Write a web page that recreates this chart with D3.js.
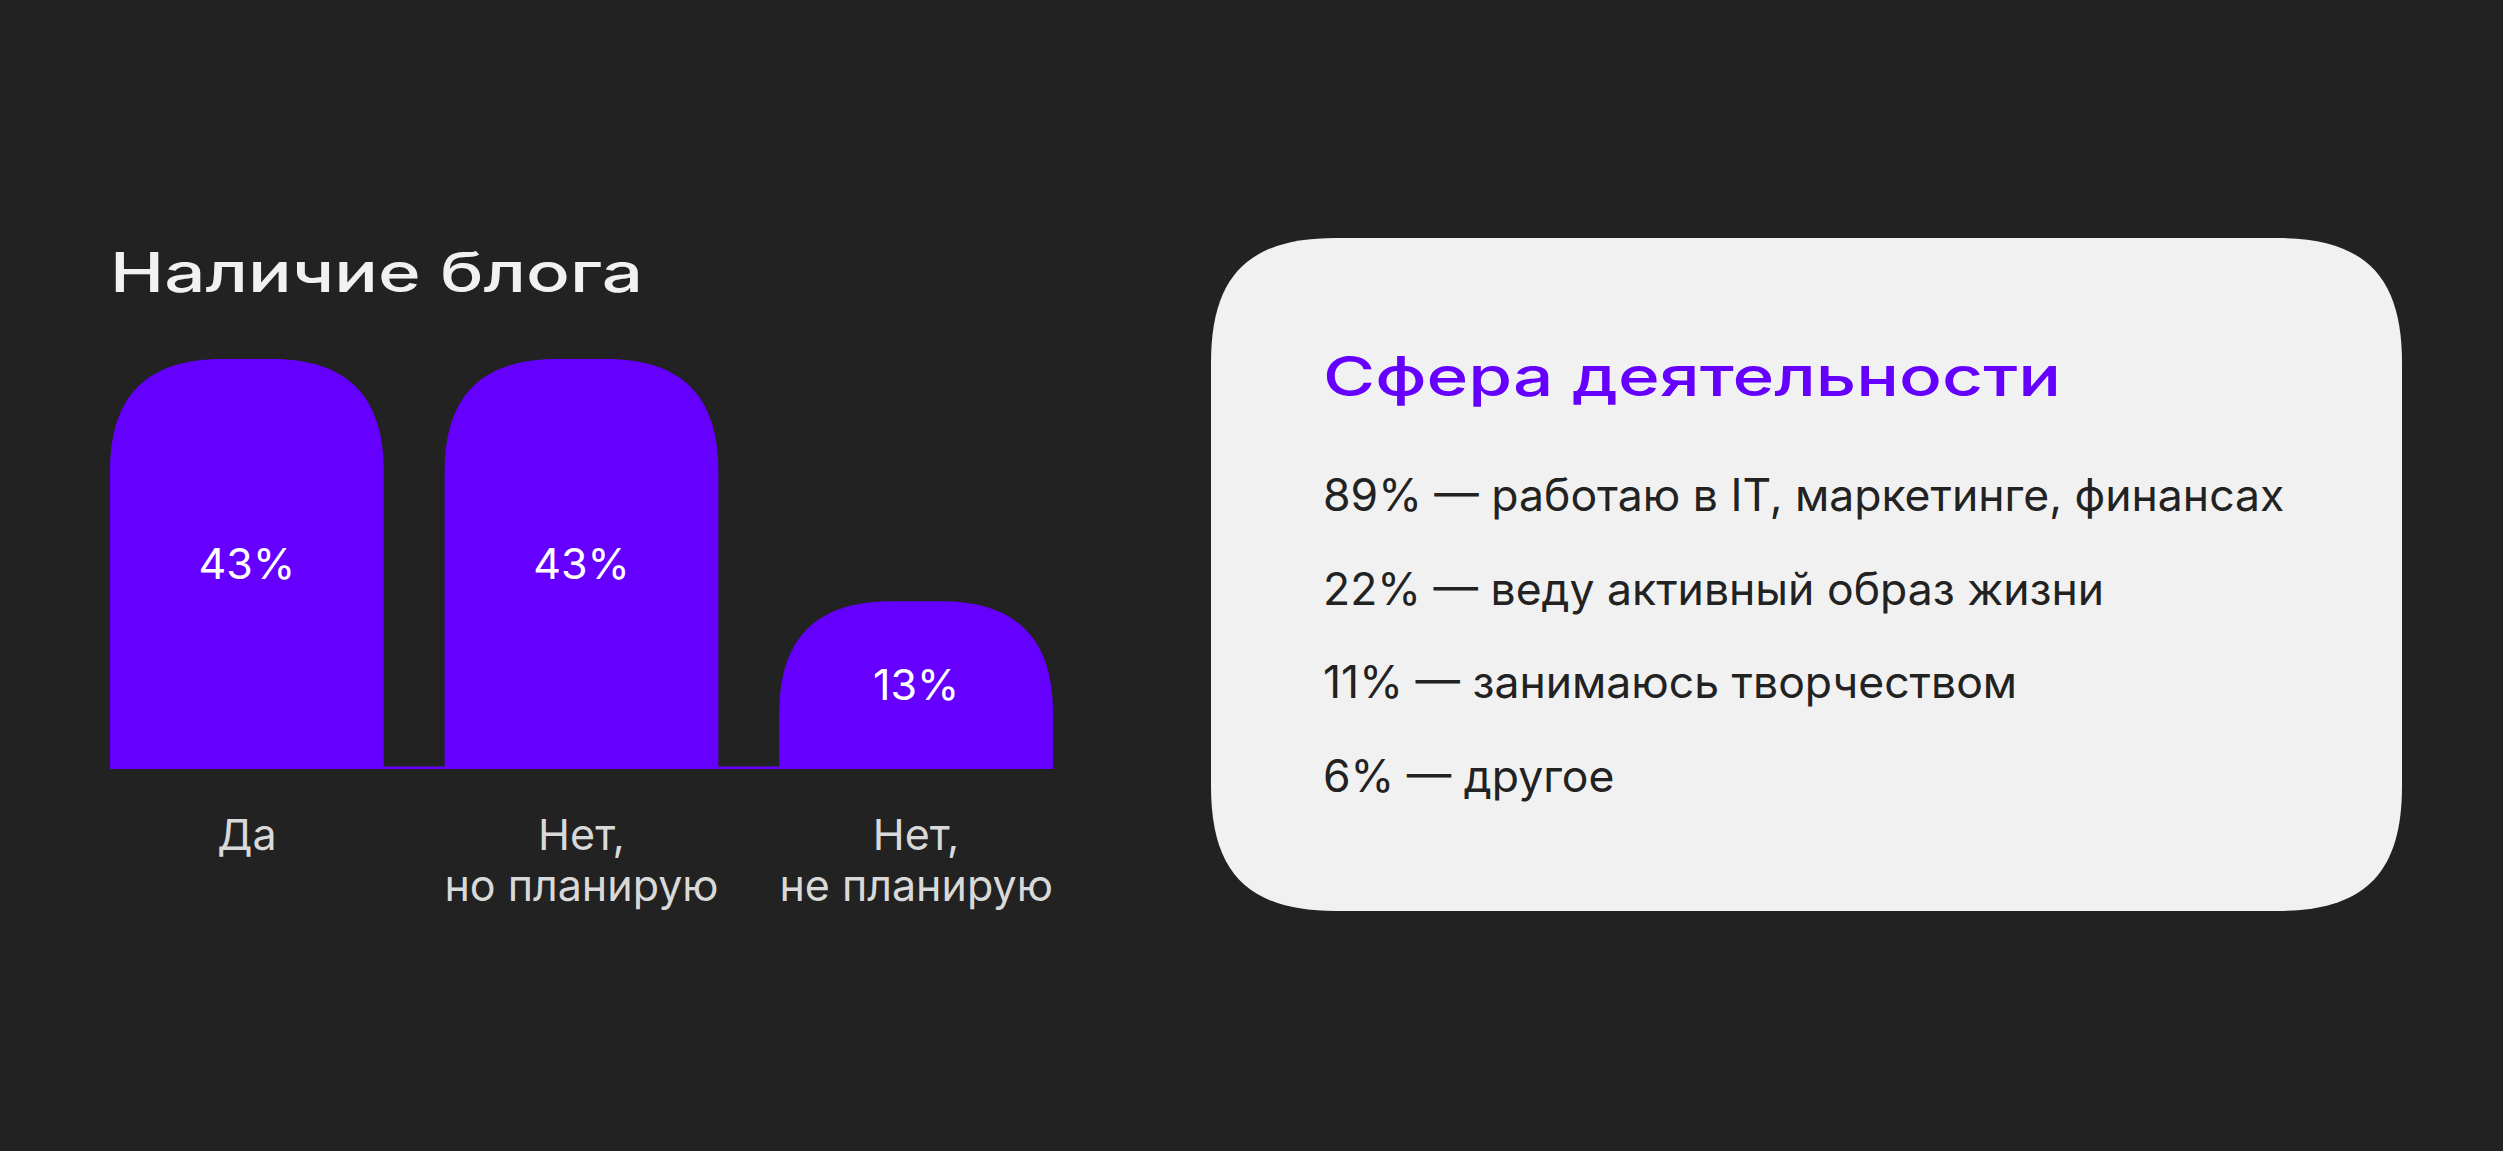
<!DOCTYPE html>
<html>
<head>
<meta charset="utf-8">
<script src="https://cdn.jsdelivr.net/npm/d3@7"></script>
<style>
  html, body { margin: 0; padding: 0; background: #222222; }
  svg { display: block; }
</style>
</head>
<body>
<svg id="chart" width="2503" height="1151"></svg>
<script>
// ---- data ----
const chartTitle = "Наличие блога";
const categories = ["Да", "Нет,\nно планирую", "Нет,\nне планирую"];
const values = [43, 43, 13];
const valueLabels = ["43%", "43%", "13%"];

const panelTitle = "Сфера деятельности";
const spherePercents = ["89%", "22%", "11%", "6%"];
const sphereLabels = ["работаю в IT, маркетинге, финансах", "веду активный образ жизни", "занимаюсь творчеством", "другое"];

// ---- style ----
const W = 2503, H = 1151;
const purple = "#6500ff";
const bg = "#222222";
const panelFill = "#f1f1f1";
const bodyFont = "Inter, 'Noto Sans', sans-serif";

const svg = d3.select("#chart");
svg.append("rect").attr("width", W).attr("height", H).attr("fill", bg);

// ---- scales ----
const x = d3.scaleBand().domain(categories).range([110, 1053]).paddingInner(0.182).paddingOuter(0);
const y = d3.scaleLinear().domain([-7.8, 43]).range([769, 359]);
const base = y.range()[0];

// squircle-like top-rounded bar path
function barPath(x0, y0, w, h, r, d) {
  const x1 = x0 + w, yb = y0 + h;
  r = Math.min(r, w / 2, h);
  return `M${x0},${yb} L${x0},${y0 + r} C${x0},${y0 + r * d} ${x0 + r * d},${y0} ${x0 + r},${y0} ` +
         `L${x1 - r},${y0} C${x1 - r * d},${y0} ${x1},${y0 + r * d} ${x1},${y0 + r} L${x1},${yb} Z`;
}
function roundRectPath(x0, y0, w, h, r, d) {
  const x1 = x0 + w, y1 = y0 + h;
  return `M${x0 + r},${y0} L${x1 - r},${y0} C${x1 - r * d},${y0} ${x1},${y0 + r * d} ${x1},${y0 + r} ` +
         `L${x1},${y1 - r} C${x1},${y1 - r * d} ${x1 - r * d},${y1} ${x1 - r},${y1} ` +
         `L${x0 + r},${y1} C${x0 + r * d},${y1} ${x0},${y1 - r * d} ${x0},${y1 - r} ` +
         `L${x0},${y0 + r} C${x0},${y0 + r * d} ${x0 + r * d},${y0} ${x0 + r},${y0} Z`;
}

// ---- left title ----
svg.append("text")
  .attr("x", 110).attr("y", 292)
  .attr("font-family", bodyFont).attr("font-weight", 500).attr("font-size", 55)
  .attr("fill", "#f1f1f1")
  .attr("textLength", 533).attr("lengthAdjust", "spacingAndGlyphs")
  .text(chartTitle);

// ---- baseline ----
svg.append("line")
  .attr("x1", x.range()[0]).attr("x2", x.range()[1])
  .attr("y1", base - 1.2).attr("y2", base - 1.2)
  .attr("stroke", purple).attr("stroke-width", 2.5);

// ---- bars ----
const data = categories.map((c, i) => ({ c, v: values[i], label: valueLabels[i] }));
svg.append("g").selectAll("path").data(data).join("path")
  .attr("d", d => barPath(x(d.c), y(d.v), x.bandwidth(), base - y(d.v), 112, 0.33))
  .attr("fill", purple);

const valFs = 43;
svg.append("g").selectAll("text").data(data).join("text")
  .attr("x", d => x(d.c) + x.bandwidth() / 2)
  .attr("y", d => (y(d.v) + base) / 2 + valFs * 0.345)
  .attr("text-anchor", "middle")
  .attr("font-family", bodyFont).attr("font-weight", 400).attr("font-size", valFs)
  .attr("fill", "#ffffff")
  .text(d => d.label);

// ---- category labels ----
const catFs = 43;
const catG = svg.append("g");
data.forEach(d => {
  const t = catG.append("text")
    .attr("x", x(d.c) + x.bandwidth() / 2).attr("y", 850)
    .attr("text-anchor", "middle")
    .attr("font-family", bodyFont).attr("font-weight", 400).attr("font-size", catFs)
    .attr("fill", "#d9d9d9");
  d.c.split("\n").forEach((line, i) => {
    t.append("tspan").attr("x", x(d.c) + x.bandwidth() / 2).attr("dy", i === 0 ? 0 : 51).text(line);
  });
});

// ---- right panel ----
svg.append("path")
  .attr("d", roundRectPath(1211, 238, 1191, 673, 125, 0.3))
  .attr("fill", panelFill);

svg.append("text")
  .attr("x", 1323).attr("y", 396)
  .attr("font-family", bodyFont).attr("font-weight", 500).attr("font-size", 55)
  .attr("fill", purple)
  .attr("textLength", 738).attr("lengthAdjust", "spacingAndGlyphs")
  .text(panelTitle);

const rowY = d3.scalePoint().domain(d3.range(spherePercents.length)).range([511, 792]);
svg.append("g").selectAll("text").data(spherePercents).join("text")
  .attr("x", 1323).attr("y", (d, i) => rowY(i))
  .attr("font-family", bodyFont).attr("font-weight", 400).attr("font-size", 44.5)
  .attr("fill", "#222222")
  .text((d, i) => `${d} — ${sphereLabels[i]}`);
</script>
</body>
</html>
